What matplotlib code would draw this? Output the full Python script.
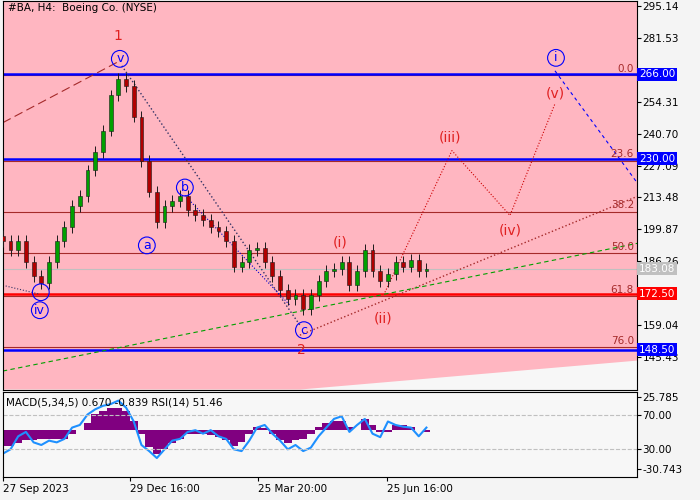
import matplotlib
matplotlib.use("Agg")
import matplotlib.pyplot as plt
import numpy as np

# ---------------- data ----------------
closes = [195, 190.9, 195, 186, 180, 177, 186, 195, 201, 210, 214, 225, 233, 242, 257, 264,
          261, 248, 229, 216, 203, 210, 212, 214, 208, 206, 204, 201, 199, 195, 184, 186,
          191, 192, 186, 180, 174, 170, 172, 166, 172, 178, 182, 183, 186, 176, 182, 191,
          182, 178, 181, 186, 184, 187, 182, 183.08]
rsi = [25, 30, 45, 50, 38, 35, 40, 38, 42, 55, 58, 70, 76, 80, 82, 86, 78, 62, 35, 28, 20,
       30, 40, 42, 50, 52, 48, 52, 45, 42, 30, 28, 40, 55, 58, 48, 40, 30, 35, 28, 32, 45,
       55, 65, 68, 50, 58, 65, 48, 44, 62, 58, 56, 55, 45, 55]
macd_hist = [-19, -18, -15, -12, -12, -10, -10, -11, -10, -5, 0, 8, 18, 22, 25, 25, 22, 10,
             -5, -20, -28, -22, -15, -10, -5, -5, -5, -6, -8, -12, -18, -14, -5, 3, 2, -5,
             -12, -15, -12, -10, -5, 3, 8, 10, 10, 3, 0, 12, 5, -2, -3, 5, 5, 3, 0, -2]
date_labels = ["27 Sep 2023", "29 Dec 16:00", "25 Mar 20:00", "25 Jun 16:00"]
date_pos = [0, 16.5, 33.1, 49.9]
level_boxes = [266.00, 230.00, 183.08, 172.50, 148.50]
level_colors = ["#0000ff", "#0000ff", "#c0c0c0", "#ff0000", "#0000ff"]
fib_names = ["0.0", "23.6", "38.2", "50.0", "61.8", "76.0"]
fib_values = [265.6, 229.2, 207.5, 189.6, 171.4, 149.7]
price_ticks = [295.14, 281.53, 254.31, 240.70, 227.09, 213.48, 199.87, 186.26, 159.04, 145.43]

# ---------------- helpers (pixel -> data) ----------------
def PX(x):
    return (x - 3) / 7.7
def PY(y):
    return 295.14 - (y - 5) / 2.351

fig = plt.figure(figsize=(7, 5), dpi=100, facecolor="#f4f4f4")
ax = fig.add_axes([0.004, 0.22, 0.906, 0.778])
ax2 = fig.add_axes([0.004, 0.046, 0.906, 0.17])
for a in (ax, ax2):
    a.set_facecolor("#f7f7f7")
    for s in a.spines.values():
        s.set_color("black"); s.set_linewidth(0.8)

ax.set_xlim(0, PX(637)); ax.set_ylim(PY(390), PY(0))
xs = np.array([PX(0), PX(300), PX(637)])
ax.fill_between(xs, [PY(389), PY(389), PY(360)], PY(0), color="#ffb6c1", zorder=0, lw=0)

prev = closes[0] + 2
for i, c in enumerate(closes):
    o = prev
    col = "#00a000" if c >= o else "#b00000"
    hi, lo = max(o, c) + 2.5, min(o, c) - 2.5
    ax.vlines(i, lo, hi, color="#1a1a1a", lw=0.7, zorder=3)
    ax.bar(i, max(abs(c - o), 0.4), bottom=min(o, c), width=0.5, color=col, edgecolor="#1a1a1a", lw=0.4, zorder=4)
    prev = c

for n, v in zip(fib_names, fib_values):
    ax.axhline(v, color="#a52a2a", lw=0.8, zorder=1)
    ax.text(PX(634), v + 0.6, n, color="#a52a2a", fontsize=7.5, ha="right", va="bottom")
ax.axhline(266, color="#0000ff", lw=1.8, zorder=2)
ax.axhline(230, color="#0000ff", lw=1.8, zorder=2)
ax.axhline(148.5, color="#0000ff", lw=1.8, zorder=2)
ax.axhline(172.5, color="#ff0000", lw=1.8, zorder=2)
ax.axhline(183.08, color="#c0c0c0", lw=0.8, zorder=2)

ax.plot([PX(3), PX(120)], [PY(122), PY(60)], color="#a52a2a", ls=(0, (8, 4)), lw=0.8)
ax.plot([PX(122), PX(300)], [PY(65), PY(325)], color="#333366", ls=":", lw=1)
ax.plot([PX(185), PX(290)], [PY(195), PY(305)], color="#0000cc", ls=":", lw=0.8)
ax.plot([PX(385), PX(452), PX(510), PX(555)], [PY(292), PY(150), PY(215), PY(103)], color="#cc0000", ls=":", lw=0.8)
ax.plot([PX(555), PX(637)], [PY(70), PY(182)], color="#0000ff", ls=(0, (3, 3)), lw=0.8)
ax.plot([PX(300), PX(637)], [PY(335), PY(196)], color="#a52a2a", ls=":", lw=1)
ax.plot([PX(3), PX(637)], [PY(371), PY(243)], color="#00a000", ls=(0, (4, 3)), lw=0.8)
ax.plot([PX(3), PX(40)], [PY(285), PY(294)], color="#333366", ls=":", lw=0.8)

def circ(x, y, t, col="#0000ff"):
    ax.text(PX(x), PY(y), t, color=col, fontsize=9, ha="center", va="center",
            bbox=dict(boxstyle="circle,pad=0.15", fc="none", ec=col, lw=0.8), zorder=6)
def lab(x, y, t, col="#e02020"):
    ax.text(PX(x), PY(y), t, color=col, fontsize=10, ha="center", va="center", zorder=6)

lab(118, 35, "1"); lab(301, 350, "2")
circ(120, 58, "v"); circ(41, 292, " "); circ(40, 310, "iv"); circ(147, 245, "a")
circ(185, 187, "b"); circ(304, 330, "c"); circ(556, 57, "i")
lab(340, 242, "(i)"); lab(383, 318, "(ii)"); lab(450, 137, "(iii)")
lab(510, 230, "(iv)"); lab(555, 93, "(v)")

ax.text(0.008, 0.995, "#BA, H4:  Boeing Co. (NYSE)", transform=ax.transAxes, fontsize=7.5, va="top", ha="left")

ax.yaxis.tick_right()
ax.set_yticks(price_ticks)
ax.set_yticklabels(["%.2f" % t for t in price_ticks], fontsize=7.5)
ax.tick_params(axis="y", length=3, pad=1)
ax.set_xticks([])
for v, c in zip(level_boxes, level_colors):
    ax.text(1.003, v, "%.2f" % v, transform=ax.get_yaxis_transform(), color="white", fontsize=7.5,
            va="center", ha="left", bbox=dict(boxstyle="square,pad=0.15", fc=c, ec="none"), zorder=10, clip_on=False)

ax2.set_xlim(0, PX(637)); ax2.set_ylim(-1.8, 95.9)
base = 52.4
ax2.bar(range(len(macd_hist)), macd_hist, bottom=base, width=1.0, color="#800080", lw=0)
ax2.plot(range(len(rsi)), rsi, color="#1e90ff", lw=1.5)
ax2.axhline(70, color="#c0c0c0", ls="--", lw=0.8)
ax2.axhline(30, color="#c0c0c0", ls="--", lw=0.8)
ax2.text(0.005, 0.93, "MACD(5,34,5) 0.670 -0.839 RSI(14) 51.46", transform=ax2.transAxes, fontsize=7.5, va="top")
ax2.yaxis.tick_right()
ax2.set_yticks([89.9, 70, 30, 7.6])
ax2.set_yticklabels(["25.785", "70.00", "30.00", "-30.743"], fontsize=7.5)
ax2.tick_params(axis="y", length=3, pad=1)
ax2.set_xticks(date_pos)
ax2.set_xticklabels(date_labels, fontsize=7.5, ha="left")
ax2.tick_params(axis="x", length=3, pad=2)

fig.savefig("out.png", dpi=100, facecolor=fig.get_facecolor())
